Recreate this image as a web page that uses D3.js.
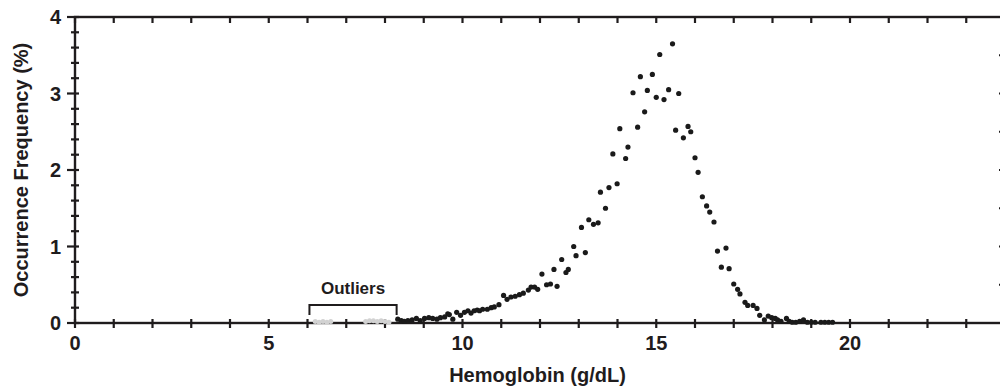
<!DOCTYPE html>
<meta charset="utf-8">
<script src="https://d3js.org/d3.v7.min.js"></script>
<style>
  body { margin: 0; background: #fff; }
  text { font-family: "Liberation Sans", Arial, sans-serif; font-weight: bold; fill: #1f1c1d; }
</style>
<div id="my_dataviz"></div>
<script>

// hemoglobin (g/dL) and occurrence frequency (%) for the main population
var hgb = [8.33, 8.42, 8.50, 8.59, 8.70, 8.81, 8.91, 9.02, 9.13, 9.23, 9.34, 9.43, 9.54, 9.62, 9.66, 9.75, 9.85, 9.95,
  10.05, 10.14, 10.22, 10.30, 10.38, 10.44, 10.52, 10.64, 10.74, 10.82, 10.94, 11.06, 11.15, 11.25, 11.36, 11.47, 11.57,
  11.70, 11.77, 11.86, 11.94, 12.05, 12.17, 12.27, 12.36, 12.44, 12.56, 12.67, 12.73, 12.87, 12.93, 13.07, 13.17, 13.26,
  13.38, 13.50, 13.56, 13.69, 13.78, 13.88, 13.99, 14.06, 14.21, 14.27, 14.40, 14.52, 14.59, 14.70, 14.77, 14.90, 15.00,
  15.09, 15.20, 15.32, 15.42, 15.50, 15.58, 15.70, 15.82, 15.89, 16.00, 16.08, 16.19, 16.30, 16.38, 16.49, 16.58, 16.68,
  16.80, 16.88, 17.00, 17.10, 17.16, 17.29, 17.36, 17.50, 17.60, 17.67, 17.79, 17.89, 17.98, 18.07, 18.13, 18.22, 18.36,
  18.43, 18.51, 18.60, 18.70, 18.80, 18.90, 19.00, 19.10, 19.25, 19.35, 19.45, 19.55];
var freq = [0.05, 0.03, 0.02, 0.03, 0.04, 0.06, 0.03, 0.06, 0.07, 0.06, 0.05, 0.07, 0.08, 0.12, 0.11, 0.05, 0.14, 0.10,
  0.14, 0.16, 0.13, 0.16, 0.17, 0.16, 0.18, 0.18, 0.20, 0.21, 0.24, 0.36, 0.31, 0.34, 0.35, 0.37, 0.39,
  0.43, 0.47, 0.47, 0.44, 0.64, 0.50, 0.51, 0.70, 0.48, 0.83, 0.66, 0.70, 1.00, 0.88, 1.25, 0.92, 1.35,
  1.29, 1.31, 1.71, 1.50, 1.77, 2.21, 1.82, 2.54, 2.15, 2.30, 3.01, 2.56, 3.22, 2.76, 3.04, 3.25, 2.95,
  3.51, 2.92, 3.05, 3.65, 2.52, 3.00, 2.42, 2.57, 2.50, 2.16, 1.97, 1.65, 1.53, 1.45, 1.32, 0.94, 0.73,
  0.98, 0.71, 0.51, 0.44, 0.38, 0.27, 0.23, 0.23, 0.19, 0.10, 0.04, 0.09, 0.07, 0.06, 0.04, 0.02, 0.06,
  0.02, 0.01, 0.01, 0.02, 0.04, 0.01, 0.01, 0.01, 0.01, 0.01, 0.01, 0.01];

// outlier points (grey)
var outHgb = [6.2, 6.3, 6.4, 6.5, 6.6, 7.5, 7.6, 7.7, 7.8, 7.9, 8.0, 8.1];
var outFreq = [0.02, 0.01, 0.02, 0.01, 0.02, 0.02, 0.03, 0.03, 0.02, 0.03, 0.02, 0.01];

var xLabels = [0, 5, 10, 15, 20];
var yLabels = [0, 1, 2, 3, 4];
var outlierRange = [6.05, 8.3];

var W = 1000, H = 387;
var svg = d3.select("#my_dataviz").append("svg")
  .attr("width", W).attr("height", H);

var x = d3.scaleLinear().domain([0, 24]).range([75, 1005]);
var y = d3.scaleLinear().domain([0, 4]).range([323, 17]);

var ink = "#1f1c1d";

// plot frame
svg.append("rect")
  .attr("x", x(0)).attr("y", y(4))
  .attr("width", x(24) - x(0)).attr("height", y(0) - y(4))
  .attr("fill", "none").attr("stroke", ink).attr("stroke-width", 2.4);

var g = svg.append("g");

// bottom ticks (crossing), top ticks (inward)
var xt = d3.range(0, 24, 1);
g.selectAll(".bt").data(xt).enter().append("line")
  .attr("x1", d => x(d)).attr("x2", d => x(d))
  .attr("y1", y(0) - 4).attr("y2", y(0) + 5);
g.selectAll(".tt").data(xt).enter().append("line")
  .attr("x1", d => x(d)).attr("x2", d => x(d))
  .attr("y1", y(4)).attr("y2", y(4) + 6);

// left ticks every 0.2, majors longer to the left
var yt = d3.range(0, 21).map(i => i / 5);
g.selectAll(".lt").data(yt).enter().append("line")
  .attr("x1", d => Number.isInteger(d) ? x(0) - 8 : x(0) - 4)
  .attr("x2", x(0) + 4)
  .attr("y1", d => y(d)).attr("y2", d => y(d));

// right ticks every 0.5
g.selectAll(".rt").data(d3.range(1, 8).map(i => i / 2)).enter().append("line")
  .attr("x1", x(24) - 6).attr("x2", x(24))
  .attr("y1", d => y(d)).attr("y2", d => y(d));

g.selectAll("line").attr("stroke", ink).attr("stroke-width", 2.2);

// tick labels
svg.selectAll(".xl").data(xLabels).enter().append("text")
  .attr("x", d => x(d)).attr("y", 350)
  .attr("text-anchor", "middle").style("font-size", "20px")
  .text(d => d);
svg.selectAll(".yl").data(yLabels).enter().append("text")
  .attr("x", 61).attr("y", d => y(d) + 7)
  .attr("text-anchor", "end").style("font-size", "20px")
  .text(d => d);

// axis titles
svg.append("text")
  .attr("x", (x(0) + 1000) / 2).attr("y", 382)
  .attr("text-anchor", "middle").style("font-size", "20px")
  .text("Hemoglobin (g/dL)");
svg.append("text")
  .attr("transform", "translate(28," + y(2) + ") rotate(-90)")
  .attr("text-anchor", "middle").style("font-size", "20px")
  .text("Occurrence Frequency (%)");

// outlier points
svg.selectAll(".od").data(outHgb).enter().append("circle")
  .attr("cx", d => x(d)).attr("cy", (d, i) => y(outFreq[i]))
  .attr("r", 2.5).attr("fill", "#d2d2d2");

// main points
svg.selectAll(".pd").data(hgb).enter().append("circle")
  .attr("cx", d => x(d)).attr("cy", (d, i) => y(freq[i]))
  .attr("r", 2.6).attr("fill", "#1a1a1a");

// outlier bracket + label
var bx0 = x(outlierRange[0]), bx1 = x(outlierRange[1]);
svg.append("path")
  .attr("d", "M" + bx0 + ",315V305H" + bx1 + "V315")
  .attr("fill", "none").attr("stroke", ink).attr("stroke-width", 2);
svg.append("text")
  .attr("x", (bx0 + bx1) / 2).attr("y", 294)
  .attr("text-anchor", "middle").style("font-size", "17px")
  .text("Outliers");

</script>
